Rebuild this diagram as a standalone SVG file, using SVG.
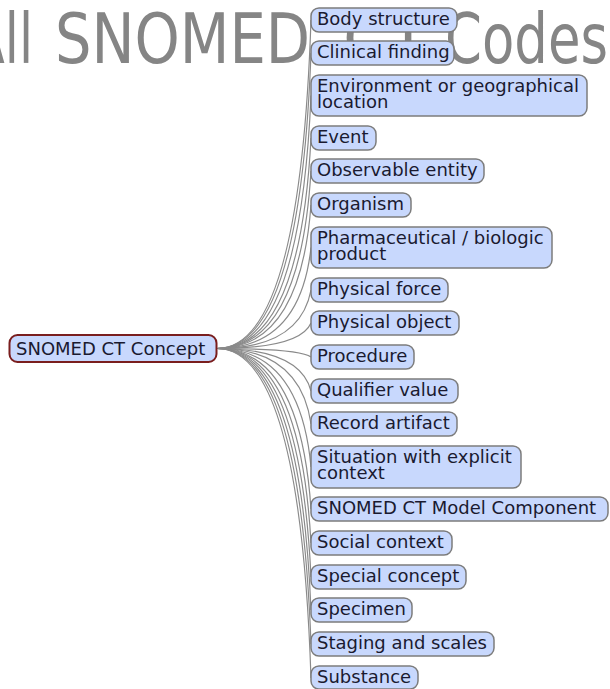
<svg xmlns="http://www.w3.org/2000/svg" width="610" height="689" viewBox="0 0 610 689">
<style>
.title{font-family:"DejaVu Sans Condensed","DejaVu Sans",sans-serif;font-size:69px;fill:#858585}
.node rect{fill:#c8d8fd;stroke:#7c7c7c;stroke-width:1.5}
#root rect{stroke:#7a1e1e;stroke-width:2}
.node text{font-family:"DejaVu Sans",sans-serif;font-size:18px;fill:#1a1a30}
.links path{fill:none;stroke:#8a8a8a;stroke-width:1.2}
</style>
<rect width="610" height="689" fill="#ffffff"/>
<text class="title" y="63"><tspan x="-30" textLength="63" lengthAdjust="spacingAndGlyphs">All</tspan> <tspan x="55" textLength="255" lengthAdjust="spacingAndGlyphs">SNOMED</tspan> <tspan x="343" textLength="85" lengthAdjust="spacingAndGlyphs">CT</tspan> <tspan x="445" textLength="163" lengthAdjust="spacingAndGlyphs">Codes</tspan></text>
<g class="links">
<path d="M217,348.5 Q300,348.5 311,20"/>
<path d="M217,348.5 Q300,348.5 311,53"/>
<path d="M217,348.5 Q300,348.5 311,95.5"/>
<path d="M217,348.5 Q300,348.5 311,138"/>
<path d="M217,348.5 Q300,348.5 311,171"/>
<path d="M217,348.5 Q300,348.5 311,205"/>
<path d="M217,348.5 Q300,348.5 311,247.5"/>
<path d="M217,348.5 Q300,348.5 311,290"/>
<path d="M217,348.5 Q300,348.5 311,323"/>
<path d="M217,348.5 Q300,348.5 311,357"/>
<path d="M217,348.5 Q300,348.5 311,391"/>
<path d="M217,348.5 Q300,348.5 311,424"/>
<path d="M217,348.5 Q300,348.5 311,467"/>
<path d="M217,348.5 Q300,348.5 311,509"/>
<path d="M217,348.5 Q300,348.5 311,543"/>
<path d="M217,348.5 Q300,348.5 311,577"/>
<path d="M217,348.5 Q300,348.5 311,610"/>
<path d="M217,348.5 Q300,348.5 311,644"/>
<path d="M217,348.5 Q300,348.5 311,678"/>
</g>
<g id="root" class="node"><rect x="9.5" y="335" width="207" height="27" rx="8"/><text x="16" y="355">SNOMED CT Concept</text></g>
<g id="n1" class="node"><rect x="311" y="8" width="146" height="24" rx="8"/><text x="317" y="25">Body structure</text></g>
<g id="n2" class="node"><rect x="311" y="41" width="143" height="24" rx="8"/><text x="317" y="58">Clinical finding</text></g>
<g id="n3" class="node"><rect x="311" y="75" width="276" height="41" rx="8"/><text x="317" y="92">Environment or geographical</text><text x="317" y="108">location</text></g>
<g id="n4" class="node"><rect x="311" y="126" width="65" height="24" rx="8"/><text x="317" y="143">Event</text></g>
<g id="n5" class="node"><rect x="311" y="159" width="173" height="24" rx="8"/><text x="317" y="176">Observable entity</text></g>
<g id="n6" class="node"><rect x="311" y="193" width="100" height="24" rx="8"/><text x="317" y="210">Organism</text></g>
<g id="n7" class="node"><rect x="311" y="227" width="241" height="41" rx="8"/><text x="317" y="244">Pharmaceutical / biologic</text><text x="317" y="260">product</text></g>
<g id="n8" class="node"><rect x="311" y="278" width="137" height="24" rx="8"/><text x="317" y="295">Physical force</text></g>
<g id="n9" class="node"><rect x="311" y="311" width="148" height="24" rx="8"/><text x="317" y="328">Physical object</text></g>
<g id="n10" class="node"><rect x="311" y="345" width="103" height="24" rx="8"/><text x="317" y="362">Procedure</text></g>
<g id="n11" class="node"><rect x="311" y="379" width="147" height="24" rx="8"/><text x="317" y="396">Qualifier value</text></g>
<g id="n12" class="node"><rect x="311" y="412" width="146" height="24" rx="8"/><text x="317" y="429">Record artifact</text></g>
<g id="n13" class="node"><rect x="311" y="446" width="210" height="42" rx="8"/><text x="317" y="463">Situation with explicit</text><text x="317" y="479">context</text></g>
<g id="n14" class="node"><rect x="311" y="497" width="297" height="24" rx="8"/><text x="317" y="514">SNOMED CT Model Component</text></g>
<g id="n15" class="node"><rect x="311" y="531" width="141" height="24" rx="8"/><text x="317" y="548">Social context</text></g>
<g id="n16" class="node"><rect x="311" y="565" width="155" height="24" rx="8"/><text x="317" y="582">Special concept</text></g>
<g id="n17" class="node"><rect x="311" y="598" width="101" height="24" rx="8"/><text x="317" y="615">Specimen</text></g>
<g id="n18" class="node"><rect x="311" y="632" width="183" height="24" rx="8"/><text x="317" y="649">Staging and scales</text></g>
<g id="n19" class="node"><rect x="311" y="666" width="107" height="23" rx="8"/><text x="317" y="683">Substance</text></g>
</svg>
